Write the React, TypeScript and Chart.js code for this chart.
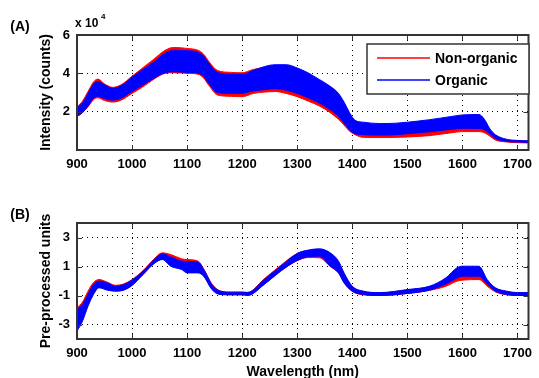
import React, { useEffect, useRef } from 'react';
import { Chart, registerables } from 'chart.js';

Chart.register(...registerables);

// ---------- Data ----------
// Panel (A): raw intensity, in units of 10^4 counts
const wavelengthsA = [900, 910, 920, 930, 938, 950, 965, 980, 1000, 1020, 1040, 1060, 1075, 1100, 1120, 1130, 1140, 1155, 1180, 1200, 1220, 1240, 1260, 1280, 1300, 1320, 1340, 1360, 1375, 1385, 1395, 1405, 1420, 1450, 1480, 1500, 1540, 1580, 1600, 1630, 1640, 1650, 1660, 1680, 1700, 1720];
const nonOrganicUpperA = [2.25, 2.55, 3.05, 3.55, 3.7, 3.45, 3.27, 3.4, 3.85, 4.3, 4.75, 5.2, 5.35, 5.3, 5.2, 5.0, 4.6, 4.15, 4.05, 4.03, 4.2, 4.3, 4.33, 4.3, 4.12, 3.88, 3.55, 3.18, 2.85, 2.4, 1.85, 1.3, 1.2, 1.15, 1.15, 1.18, 1.25, 1.3, 1.32, 1.32, 1.25, 1.0, 0.72, 0.52, 0.48, 0.46];
const nonOrganicLowerA = [1.75, 1.95, 2.25, 2.62, 2.72, 2.58, 2.5, 2.6, 2.95, 3.3, 3.7, 4.0, 4.03, 4.0, 3.95, 3.75, 3.35, 2.87, 2.8, 2.78, 2.95, 3.02, 3.05, 2.95, 2.78, 2.55, 2.3, 1.95, 1.6, 1.3, 0.98, 0.8, 0.66, 0.65, 0.66, 0.68, 0.75, 0.9, 0.96, 0.96, 0.9, 0.72, 0.52, 0.42, 0.38, 0.37];
const organicUpperA = [2.2, 2.45, 2.95, 3.45, 3.58, 3.4, 3.22, 3.35, 3.8, 4.2, 4.6, 5.05, 5.2, 5.18, 5.1, 4.9, 4.5, 4.05, 3.95, 3.95, 4.15, 4.35, 4.45, 4.45, 4.28, 4.02, 3.68, 3.32, 2.95, 2.5, 1.95, 1.55, 1.45, 1.38, 1.4, 1.45, 1.58, 1.75, 1.83, 1.85, 1.6, 1.1, 0.8, 0.56, 0.5, 0.48];
const organicLowerA = [1.75, 1.95, 2.3, 2.7, 2.8, 2.68, 2.6, 2.7, 3.05, 3.4, 3.75, 4.03, 4.08, 4.05, 4.0, 3.85, 3.45, 3.0, 2.95, 2.96, 3.08, 3.15, 3.2, 3.12, 2.95, 2.72, 2.45, 2.1, 1.75, 1.4, 1.05, 0.85, 0.8, 0.78, 0.8, 0.85, 0.95, 1.08, 1.13, 1.12, 1.05, 0.85, 0.6, 0.45, 0.42, 0.4];

// Panel (B): pre-processed units
const wavelengthsB = [900, 910, 920, 930, 940, 955, 970, 985, 1000, 1020, 1040, 1055, 1070, 1090, 1100, 1120, 1130, 1145, 1160, 1180, 1200, 1210, 1240, 1270, 1300, 1320, 1340, 1360, 1375, 1385, 1400, 1420, 1450, 1500, 1540, 1570, 1590, 1600, 1630, 1645, 1660, 1680, 1700, 1720];
const nonOrganicUpperB = [-1.85, -1.45, -0.7, -0.1, 0.1, -0.08, -0.3, -0.2, 0.1, 0.72, 1.52, 1.94, 1.83, 1.53, 1.48, 1.37, 0.85, -0.2, -0.68, -0.77, -0.77, -0.78, 0.15, 1.08, 1.9, 2.1, 2.12, 1.8, 1.25, 0.45, -0.4, -0.72, -0.82, -0.62, -0.4, 0.0, 0.3, 0.4, 0.4, -0.05, -0.5, -0.72, -0.82, -0.82];
const nonOrganicLowerB = [-2.9, -2.5, -1.6, -0.85, -0.42, -0.6, -0.68, -0.6, -0.28, 0.45, 1.22, 1.5, 1.1, 0.85, 0.65, 0.62, 0.38, -0.55, -0.9, -0.95, -0.95, -0.98, -0.22, 0.7, 1.4, 1.62, 1.6, 1.0, 0.55, -0.1, -0.72, -0.95, -1.0, -0.86, -0.65, -0.36, -0.01, 0.06, 0.1, -0.36, -0.75, -0.95, -1.0, -1.0];
const organicUpperB = [-1.97, -1.62, -0.93, -0.24, -0.01, -0.13, -0.36, -0.24, 0.06, 0.68, 1.48, 1.87, 1.67, 1.37, 1.35, 1.3, 0.79, -0.24, -0.7, -0.77, -0.77, -0.8, 0.1, 1.02, 1.9, 2.13, 2.22, 1.94, 1.37, 0.56, -0.36, -0.7, -0.8, -0.59, -0.36, 0.22, 0.91, 1.02, 1.02, 0.1, -0.47, -0.7, -0.8, -0.8];
const organicLowerB = [-3.46, -2.77, -1.74, -0.93, -0.47, -0.63, -0.7, -0.63, -0.31, 0.45, 1.2, 1.48, 1.02, 0.79, 0.56, 0.56, 0.33, -0.59, -0.93, -0.95, -0.95, -1.0, -0.24, 0.68, 1.42, 1.67, 1.71, 1.02, 0.56, -0.13, -0.7, -0.93, -1.0, -0.86, -0.63, -0.2, 0.2, 0.33, 0.33, -0.2, -0.7, -0.93, -1.0, -1.0];

// Tick values
const xTickValues = [900, 1000, 1100, 1200, 1300, 1400, 1500, 1600, 1700];
const yTickValuesA = [0, 2, 4, 6];
const yTickValuesB = [-3, -1, 1, 3];

const seriesNames = ['Non-organic', 'Organic'];

// ---------- Styling ----------
const FONT = '"Liberation Sans", Arial, Helvetica, sans-serif';
const RED = '#ff0000';
const BLUE = '#0000ff';
const AXIS = '#333333';

const toPoints = (xs: number[], ys: number[]) => xs.map((x, i) => ({ x, y: ys[i] }));

const frameAndTicks = {
  id: 'frameAndTicks',
  afterDatasetsDraw(chart: any) {
    const { ctx, chartArea } = chart;
    const { left, right, top, bottom } = chartArea;
    const xs = chart.scales.x;
    const ys = chart.scales.y;
    const len = 5;
    ctx.save();
    ctx.strokeStyle = AXIS;
    ctx.lineWidth = 1;
    ctx.beginPath();
    xs.ticks.forEach((t: any) => {
      const px = Math.round(xs.getPixelForValue(t.value)) + 0.5;
      ctx.moveTo(px, bottom);
      ctx.lineTo(px, bottom - len);
      ctx.moveTo(px, top);
      ctx.lineTo(px, top + len);
    });
    ys.ticks.forEach((t: any) => {
      const py = Math.round(ys.getPixelForValue(t.value)) + 0.5;
      ctx.moveTo(left, py);
      ctx.lineTo(left + len, py);
      ctx.moveTo(right, py);
      ctx.lineTo(right - len, py);
    });
    ctx.stroke();
    ctx.lineWidth = 2;
    ctx.strokeRect(left, top, right - left, bottom - top);
    ctx.restore();
  },
};

const annotations = {
  id: 'annotations',
  afterDraw(chart: any, _args: any, opts: any) {
    const { ctx } = chart;
    ctx.save();
    ctx.fillStyle = '#000';
    (opts.texts || []).forEach((t: any) => {
      ctx.font = `bold ${t.size}px ${FONT}`;
      ctx.textAlign = t.align || 'left';
      ctx.textBaseline = t.baseline || 'middle';
      ctx.fillText(t.text, t.x, t.y);
    });
    if (opts.legend) {
      const L = opts.legend;
      ctx.fillStyle = '#fff';
      ctx.fillRect(L.x, L.y, L.w, L.h);
      ctx.strokeStyle = AXIS;
      ctx.lineWidth = 1.5;
      ctx.strokeRect(L.x, L.y, L.w, L.h);
      L.items.forEach((it: any, i: number) => {
        const y = L.y + L.first + i * L.gap;
        ctx.strokeStyle = it.color;
        ctx.lineWidth = 1.5;
        ctx.beginPath();
        ctx.moveTo(L.x + 10, y);
        ctx.lineTo(L.x + 63, y);
        ctx.stroke();
        ctx.fillStyle = '#000';
        ctx.font = `bold 14px ${FONT}`;
        ctx.textAlign = 'left';
        ctx.textBaseline = 'middle';
        ctx.fillText(it.label, L.x + 68, y + 1);
      });
    }
    ctx.restore();
  },
};

function bandDatasets(wl: number[], orgLo: number[], orgHi: number[], nonLo: number[], nonHi: number[]) {
  const base = { pointRadius: 0, borderWidth: 1, tension: 0.3, cubicInterpolationMode: 'monotone' as const };
  // First datasets are drawn on top in Chart.js, so Organic (blue) comes first.
  return [
    { ...base, label: seriesNames[1] + ' min', data: toPoints(wl, orgLo), borderColor: BLUE, backgroundColor: BLUE, fill: false },
    { ...base, label: seriesNames[1] + ' max', data: toPoints(wl, orgHi), borderColor: BLUE, backgroundColor: BLUE, fill: '-1' },
    { ...base, label: seriesNames[0] + ' min', data: toPoints(wl, nonLo), borderColor: RED, backgroundColor: RED, fill: false },
    { ...base, label: seriesNames[0] + ' max', data: toPoints(wl, nonHi), borderColor: RED, backgroundColor: RED, fill: '-1' },
  ];
}

function makeConfig(panel: 'A' | 'B'): any {
  const isA = panel === 'A';
  const tickFont = { family: FONT, size: 13, weight: 'bold' as const };
  const titleFont = { family: FONT, size: 14, weight: 'bold' as const, lineHeight: 1 };
  const yTicks = isA ? yTickValuesA : yTickValuesB;
  return {
    type: 'line',
    data: {
      datasets: isA
        ? bandDatasets(wavelengthsA, organicLowerA, organicUpperA, nonOrganicLowerA, nonOrganicUpperA)
        : bandDatasets(wavelengthsB, organicLowerB, organicUpperB, nonOrganicLowerB, nonOrganicUpperB),
    },
    options: {
      animation: false,
      responsive: false,
      devicePixelRatio: 1,
      layout: { padding: { top: isA ? 35 : 48, right: 2, left: 0, bottom: 0 } },
      scales: {
        x: {
          type: 'linear',
          min: 900,
          max: 1720,
          afterBuildTicks: (s: any) => { s.ticks = xTickValues.map((v) => ({ value: v })); },
          afterFit: (s: any) => { s.height = isA ? 25 : 39; },
          ticks: { font: tickFont, color: '#000', padding: 7, maxRotation: 0, callback: (v: any) => String(v) },
          grid: { color: '#000', drawTicks: false, lineWidth: 1 },
          border: { display: false, dash: [1, 4] },
          title: isA
            ? { display: false }
            : { display: true, text: 'Wavelength (nm)', font: titleFont, color: '#000', padding: { top: 0, bottom: -1 } },
        },
        y: {
          type: 'linear',
          min: isA ? 0 : -4,
          max: isA ? 6 : 4,
          afterBuildTicks: (s: any) => { s.ticks = yTicks.map((v) => ({ value: v })); },
          afterFit: (s: any) => { s.width = 77; },
          ticks: {
            font: tickFont,
            color: '#000',
            padding: 7,
            callback: (v: any) => (isA && v === 0 ? '' : String(v)),
          },
          grid: { color: '#000', drawTicks: false, lineWidth: 1 },
          border: { display: false, dash: [1, 4] },
          title: {
            display: true,
            text: isA ? 'Intensity (counts)' : 'Pre-processed units',
            font: titleFont,
            color: '#000',
            padding: { top: 39, bottom: 0 },
          },
        },
      },
      plugins: {
        legend: { display: false },
        tooltip: { enabled: false },
        annotations: isA
          ? {
              texts: [
                { text: '(A)', x: 20, y: 27, size: 14, align: 'center' },
                { text: 'x 10', x: 75, y: 27, size: 12, baseline: 'alphabetic' },
                { text: '4', x: 101, y: 18.5, size: 8, baseline: 'alphabetic' },
              ],
              legend: {
                x: 367, y: 44, w: 162, h: 50, first: 14, gap: 22,
                items: [
                  { label: seriesNames[0], color: RED },
                  { label: seriesNames[1], color: BLUE },
                ],
              },
            }
          : {
              texts: [{ text: '(B)', x: 20, y: 40, size: 14, align: 'center' }],
            },
      },
    },
    plugins: [frameAndTicks, annotations],
  };
}

function Panel({ panel, top, height }: { panel: 'A' | 'B'; top: number; height: number }) {
  const ref = useRef<HTMLCanvasElement>(null);
  useEffect(() => {
    if (!ref.current) return;
    const chart = new Chart(ref.current, makeConfig(panel));
    return () => chart.destroy();
  }, [panel]);
  return (
    <canvas
      ref={ref}
      width={539}
      height={height}
      style={{ position: 'absolute', left: 0, top, width: 539, height, display: 'block' }}
    />
  );
}

export default function App() {
  return (
    <div style={{ position: 'absolute', left: 0, top: 0, width: 539, height: 378, background: '#fff', overflow: 'hidden' }}>
      <Panel panel="A" top={0} height={175} />
      <Panel panel="B" top={175} height={203} />
    </div>
  );
}
